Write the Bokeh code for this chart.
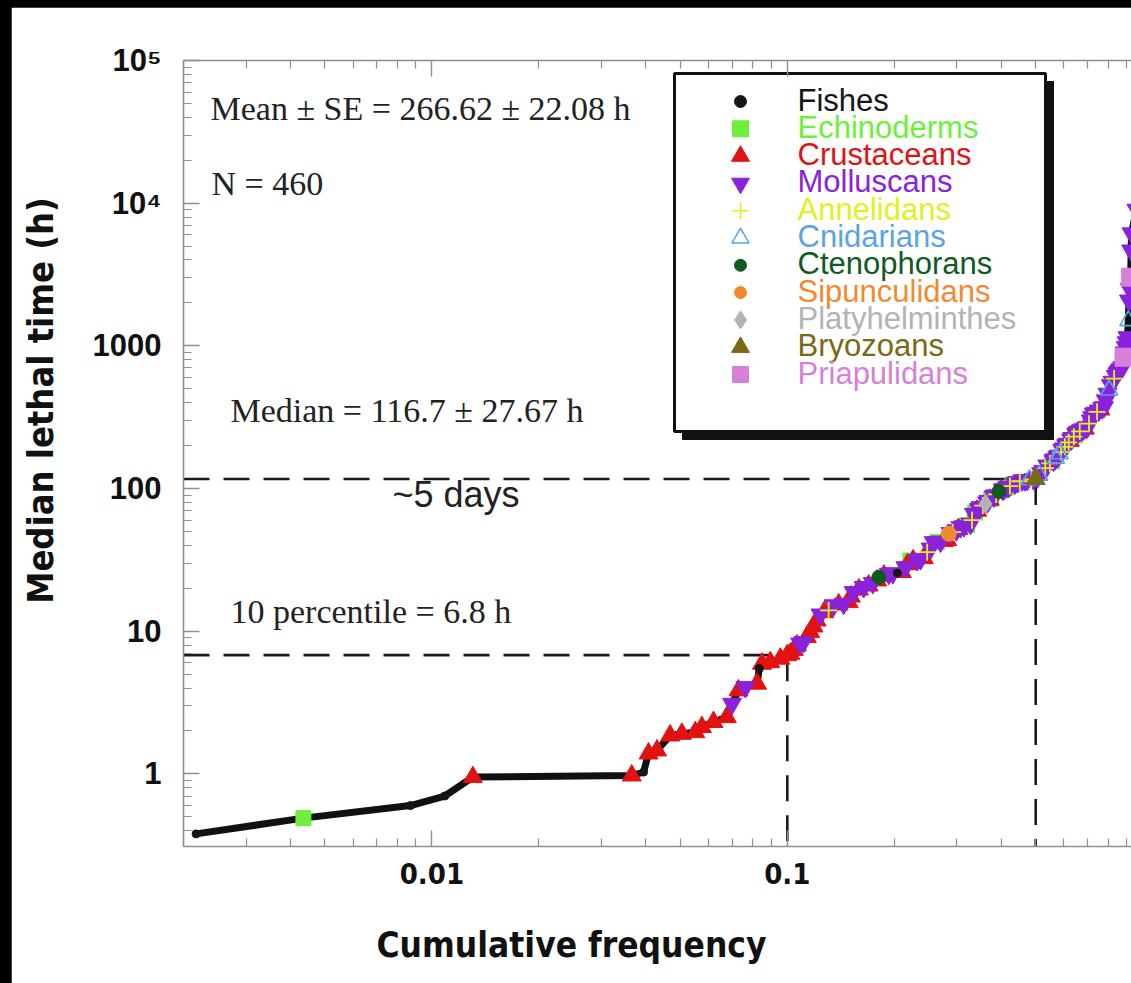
import math

from bokeh.plotting import figure
from bokeh.layouts import column
from bokeh.models import LogAxis, FixedTicker, Label, Range1d
from bokeh.embed import file_html
from bokeh.resources import INLINE

# ---------------------------------------------------------------- data
taxa = ["Fishes", "Echinoderms", "Crustaceans", "Molluscans", "Annelidans",
        "Cnidarians", "Ctenophorans", "Sipunculidans", "Platyhelminthes",
        "Bryozoans", "Priapulidans"]
taxon_codes = ["F", "E", "C", "M", "A", "N", "T", "S", "P", "B", "R"]
taxon_colors = ["#161616", "#6cf03a", "#e31212", "#8a22dc", "#e4ef1e",
                "#5ba3e3", "#0e5a1f", "#f3892f", "#b3b3b3", "#7a6915", "#d77fd9"]
taxon_markers = ["circle", "square", "triangle", "inverted_triangle", "cross",
                 "triangle", "circle", "circle", "diamond", "triangle", "square"]
taxon_sizes = [8, 15, 19, 19, 17, 17, 14, 15, 19, 19, 18]
taxon_hollow = [False, False, False, False, False, True, False, False, False, False, False]

# (cumulative frequency, median lethal time in h, taxon) for each plotted record
records = [
    (0.00217, 0.38, "F"), (0.00435, 0.49, "E"), (0.00870, 0.60, "F"),
    (0.01087, 0.70, "F"), (0.01304, 0.95, "C"), (0.0365, 0.975, "C"),
    (0.0394, 1.03, "F"), (0.0407, 1.39, "C"), (0.0430, 1.46, "C"),
    (0.0468, 1.86, "C"), (0.0505, 1.91, "C"), (0.0551, 1.96, "C"),
    (0.0575, 2.13, "C"), (0.0620, 2.31, "C"), (0.0676, 2.50, "C"),
    (0.0699, 3.10, "M"), (0.0729, 3.85, "C"), (0.0762, 4.06, "M"),
    (0.0822, 4.29, "C"), (0.0834, 5.49, "F"), (0.0849, 5.92, "C"),
    (0.0896, 6.07, "C"), (0.0956, 6.42, "C"), (0.1000, 6.80, "C"),
    (0.1020, 6.96, "C"), (0.1043, 7.40, "C"), (0.1065, 7.95, "C"),
    (0.1087, 8.20, "M"), (0.111, 8.39, "M"), (0.1135, 9.10, "C"),
    (0.116, 9.86, "C"), (0.1185, 10.8, "C"), (0.121, 11.9, "C"),
    (0.124, 13.1, "M"), (0.127, 13.6, "C"), (0.1307, 14.0, "A"),
    (0.135, 15.2, "M"), (0.1395, 15.4, "C"), (0.144, 15.6, "M"),
    (0.1488, 16.0, "C"), (0.151, 17.5, "C"), (0.1537, 18.8, "M"),
    (0.159, 19.6, "C"), (0.164, 20.4, "M"), (0.1694, 20.9, "C"),
    (0.174, 21.8, "M"), (0.179, 22.7, "C"), (0.181, 23.9, "T"),
    (0.187, 24.5, "C"), (0.193, 25.3, "M"), (0.198, 25.5, "M"),
    (0.204, 25.6, "F"), (0.210, 26.0, "C"), (0.215, 28.1, "M"),
    (0.218, 29.5, "C"), (0.222, 31.3, "E"), (0.226, 31.4, "C"),
    (0.232, 31.5, "M"), (0.237, 32.0, "M"), (0.242, 32.5, "C"),
    (0.2475, 35.8, "A"), (0.253, 38.0, "M"), (0.2583, 42.1, "M"),
    (0.264, 42.3, "E"), (0.270, 42.5, "M"), (0.276, 43.0, "C"),
    (0.2818, 43.5, "C"), (0.2846, 48.2, "S"), (0.288, 48.8, "M"),
    (0.292, 49.5, "A"), (0.299, 51.0, "M"), (0.303, 52.0, "C"),
    (0.307, 53.6, "M"), (0.314, 54.5, "M"), (0.3208, 55.5, "E"),
    (0.3278, 56.6, "M"), (0.331, 60.0, "A"), (0.335, 66.6, "M"),
    (0.338, 68.0, "E"), (0.342, 70.0, "C"), (0.346, 72.0, "M"),
    (0.350, 74.1, "M"), (0.355, 76.0, "A"), (0.3613, 78.2, "P"),
    (0.365, 80.0, "M"), (0.368, 82.0, "M"), (0.371, 83.5, "C"),
    (0.375, 85.0, "E"), (0.381, 88.0, "M"), (0.384, 89.5, "M"),
    (0.387, 91.0, "A"), (0.3937, 95.4, "T"), (0.400, 97.0, "C"),
    (0.404, 98.0, "M"), (0.408, 99.5, "M"), (0.412, 101.0, "E"),
    (0.4158, 102.3, "M"), (0.420, 103.0, "M"), (0.423, 104.0, "A"),
    (0.430, 106.5, "E"), (0.437, 108.5, "M"), (0.4436, 110.9, "M"),
    (0.451, 112.5, "A"), (0.458, 114.0, "M"), (0.466, 114.5, "M"),
    (0.4733, 115.0, "M"), (0.480, 115.4, "N"), (0.486, 115.8, "A"),
    (0.493, 116.2, "M"), (0.500, 116.7, "B"), (0.506, 120.0, "M"),
    (0.512, 124.0, "N"), (0.518, 128.0, "M"), (0.525, 133.0, "M"),
    (0.532, 139.0, "A"), (0.539, 145.0, "M"), (0.548, 150.0, "A"),
    (0.557, 155.0, "E"), (0.561, 157.0, "M"), (0.566, 160.0, "M"),
    (0.570, 163.0, "N"), (0.575, 166.0, "M"), (0.580, 170.0, "M"),
    (0.585, 175.0, "N"), (0.589, 180.0, "A"), (0.594, 186.0, "M"),
    (0.599, 191.0, "M"), (0.604, 196.0, "A"), (0.609, 201.0, "M"),
    (0.614, 206.0, "M"), (0.619, 211.0, "A"), (0.624, 216.0, "C"),
    (0.629, 221.0, "M"), (0.634, 226.0, "M"), (0.640, 231.0, "A"),
    (0.645, 236.0, "E"), (0.650, 241.0, "M"), (0.655, 247.0, "M"),
    (0.660, 250.0, "M"), (0.665, 252.0, "A"), (0.670, 255.0, "M"),
    (0.676, 258.0, "M"), (0.681, 260.0, "M"), (0.687, 263.0, "C"),
    (0.693, 266.0, "M"), (0.699, 269.0, "M"), (0.706, 285.0, "A"),
    (0.714, 300.0, "M"), (0.721, 316.0, "M"), (0.729, 334.0, "M"),
    (0.736, 340.0, "M"), (0.744, 345.0, "A"), (0.752, 352.0, "M"),
    (0.760, 358.0, "C"), (0.769, 365.0, "M"), (0.778, 372.0, "M"),
    (0.787, 415.0, "M"), (0.796, 462.0, "M"), (0.805, 490.0, "N"),
    (0.814, 530.0, "M"), (0.822, 560.0, "M"), (0.831, 590.0, "A"),
    (0.840, 615.0, "M"), (0.848, 641.0, "M"), (0.855, 658.0, "M"),
    (0.862, 675.0, "M"), (0.870, 692.0, "M"), (0.877, 709.0, "M"),
    (0.886, 833.0, "R"), (0.891, 900.0, "M"), (0.896, 980.0, "M"),
    (0.901, 1060.0, "M"), (0.906, 1150.0, "M"), (0.911, 1500.0, "N"),
    (0.915, 2080.0, "M"), (0.920, 2500.0, "M"), (0.925, 3030.0, "R"),
    (0.928, 4660.0, "M"), (0.930, 6150.0, "M"), (0.960, 9000.0, "M"),
    (1.000, 20000.0, "M"),
]
cum_freq = [r[0] for r in records]
lethal_time_h = [r[1] for r in records]
point_taxon = [r[2] for r in records]

x_ticks = [0.01, 0.1, 1.0]
x_tick_labels = ["0.01", "0.1", "1"]
y_ticks = [1, 10, 100, 1000, 10000, 100000]
y_tick_labels = ["1", "10", "100", "1000", "10\u2074", "10\u2075"]

n_records = 460
mean_h, mean_se = 266.62, 22.08
median_h, median_se, median_freq = 116.7, 27.67, 0.5
p10_h, p10_freq = 6.8, 0.1

# ---------------------------------------------------------------- frame
X0, X1 = 0.002, 0.93
Y0, Y1 = 0.31, 1e5
FIG_W, FIG_H = 1120, 976
FRAME_L, FRAME_T = 172, 53
FRAME_W, FRAME_H = FIG_W - FRAME_L, 786


def at(dx, dy):
    """Data coordinates of a point dx, dy pixels from the frame's top-left corner."""
    lx = math.log10(X0) + dx / FRAME_W * (math.log10(X1) - math.log10(X0))
    ly = math.log10(Y1) - dy / FRAME_H * (math.log10(Y1) - math.log10(Y0))
    return 10 ** lx, 10 ** ly


SERIF = "Liberation Serif"
SANS = "Liberation Sans"
NARROW = "'Liberation Sans Narrow', 'Noto Sans Condensed', 'DejaVu Sans Condensed', sans-serif"
AXIS_GREY = "#8f8f8f"
INK = "#111111"

p = figure(width=FIG_W, height=FIG_H, x_axis_type="log", y_axis_type="log",
           x_range=Range1d(X0, X1), y_range=Range1d(Y0, Y1),
           output_backend="svg", toolbar_location=None,
           min_border_left=FRAME_L, min_border_top=FRAME_T,
           min_border_bottom=FIG_H - FRAME_T - FRAME_H, min_border_right=0,
           background_fill_color="white", border_fill_color="white")
p.outline_line_color = None
p.grid.visible = False
p.margin = (7, 0, 0, 11)

x_minor = [m * 10 ** k for k in (-3, -2, -1) for m in range(2, 10)]
y_minor = [m * 10 ** k for k in range(-1, 5) for m in range(2, 10)]


def style_axis(ax):
    ax.axis_line_color = AXIS_GREY
    ax.axis_line_width = 1.6
    ax.major_tick_line_color = AXIS_GREY
    ax.minor_tick_line_color = AXIS_GREY
    ax.major_tick_line_width = 1.4
    ax.minor_tick_line_width = 1.2
    ax.major_tick_out = 0
    ax.minor_tick_out = 0
    ax.major_tick_in = 16
    ax.minor_tick_in = 8


xax = p.xaxis[0]
xax.ticker = FixedTicker(ticks=x_ticks, minor_ticks=x_minor)
xax.major_label_overrides = dict(zip(x_ticks, x_tick_labels))
style_axis(xax)
xax.major_label_text_font = NARROW
xax.major_label_text_font_style = "bold"
xax.major_label_text_font_size = "29px"
xax.major_label_text_color = INK
xax.major_label_standoff = 16

yax = p.yaxis[0]
yax.ticker = FixedTicker(ticks=y_ticks, minor_ticks=y_minor)
yax.major_label_overrides = dict(zip(y_ticks, y_tick_labels))
style_axis(yax)
yax.major_label_text_font = SANS
yax.major_label_text_font_style = "bold"
yax.major_label_text_font_size = "31px"
yax.major_label_text_color = INK
yax.major_label_standoff = 22

top = LogAxis(ticker=FixedTicker(ticks=x_ticks, minor_ticks=x_minor))
style_axis(top)
top.major_label_text_font_size = "1px"
top.major_label_text_color = None
p.add_layout(top, "above")

# axis titles, positioned by hand in the side panels
lx, ly = at(-143, 340)
p.add_layout(Label(x=lx, y=ly, text="Median lethal time (h)", angle=math.pi / 2,
                   text_font=NARROW, text_font_style="bold", text_font_size="36px",
                   text_color=INK, text_align="center", text_baseline="middle"), "left")
lx, ly = at(388, 884)
p.add_layout(Label(x=lx, y=ly, text="Cumulative frequency",
                   text_font=NARROW, text_font_style="bold", text_font_size="35px",
                   text_color=INK, text_align="center", text_baseline="middle"), "below")

# ---------------------------------------------------------------- reference lines
DASH = "26 14"
for xs, ys in (([X0, median_freq], [median_h, median_h]),
               ([median_freq, median_freq], [median_h, Y0]),
               ([X0, p10_freq], [p10_h, p10_h]),
               ([p10_freq, p10_freq], [p10_h, Y0])):
    p.line(xs, ys, line_color="#1a1a1a", line_width=2.6, line_dash=DASH)

# ---------------------------------------------------------------- cumulative curve
p.line(cum_freq, lethal_time_h, line_color=INK, line_width=7,
       line_join="round", line_cap="round")

draw_order = ["E", "C", "M", "A", "N", "P", "B", "S", "T", "R", "F"]
for code in draw_order:
    i = taxon_codes.index(code)
    xs = [f for f, t in zip(cum_freq, point_taxon) if t == code]
    ys = [h for h, t in zip(lethal_time_h, point_taxon) if t == code]
    if taxon_hollow[i]:
        p.scatter(xs, ys, marker=taxon_markers[i], size=taxon_sizes[i],
                  fill_color=None, line_color=taxon_colors[i], line_width=1.6)
    elif taxon_markers[i] == "cross":
        p.scatter(xs, ys, marker="cross", size=taxon_sizes[i],
                  line_color=taxon_colors[i], line_width=1.8)
    else:
        p.scatter(xs, ys, marker=taxon_markers[i], size=taxon_sizes[i],
                  fill_color=taxon_colors[i], line_color=taxon_colors[i], line_width=1)


# ---------------------------------------------------------------- statistics text
def note(text, dx, dy, font=SERIF, size="34px"):
    x, y = at(dx, dy)
    p.add_layout(Label(x=x, y=y, text=text, text_font=font, text_font_size=size,
                       text_color="#222222", text_baseline="alphabetic",
                       text_align="left"))


note(f"Mean \u00b1 SE = {mean_h:.2f} \u00b1 {mean_se:.2f} h", 27, 48)
note(f"N = {n_records}", 28, 123)
note(f"Median = {median_h} \u00b1 {median_se}  h", 47, 350)
note(f"10 percentile = {p10_h} h", 47, 551)
note("~5 days", 209, 434, font=SANS, size="36px")

# ---------------------------------------------------------------- legend box
box_l, box_t, box_r, box_b = 491, 13, 862, 371
shadow = 8
sl, st = at(box_l + shadow, box_t + shadow)
sr, sb = at(box_r + shadow, box_b + shadow)
p.quad(left=[sl], right=[sr], top=[st], bottom=[sb], fill_color=INK, line_color=INK)
bl, bt = at(box_l, box_t)
br, bb = at(box_r, box_b)
p.quad(left=[bl], right=[br], top=[bt], bottom=[bb], fill_color="white",
       line_color=INK, line_width=3)

legend_sizes = [12, 16, 18, 18, 17, 17, 12, 12, 18, 18, 16]
for i, name in enumerate(taxa):
    mx, my = at(557, 41 + 27.3 * i)
    if taxon_hollow[i]:
        p.scatter([mx], [my], marker=taxon_markers[i], size=legend_sizes[i],
                  fill_color=None, line_color=taxon_colors[i], line_width=1.5)
    elif taxon_markers[i] == "cross":
        p.scatter([mx], [my], marker="cross", size=legend_sizes[i],
                  line_color=taxon_colors[i], line_width=1.5)
    else:
        p.scatter([mx], [my], marker=taxon_markers[i], size=legend_sizes[i],
                  fill_color=taxon_colors[i], line_color=taxon_colors[i])
    tx, ty = at(614, 39.5 + 27.3 * i)
    p.add_layout(Label(x=tx, y=ty, text=name, text_font=SANS, text_font_size="31px",
                       text_color=taxon_colors[i], text_baseline="alphabetic"))

page = column(p, styles={"background-color": "black"})

open("out.html", "w").write(file_html(page, INLINE))
